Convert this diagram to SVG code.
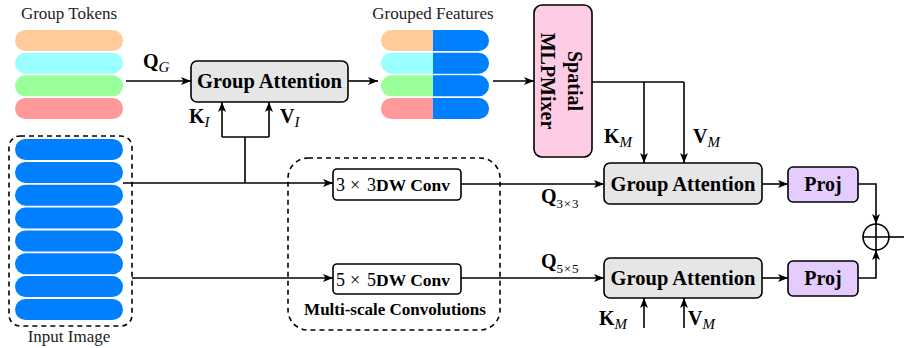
<svg xmlns="http://www.w3.org/2000/svg" width="904" height="348" viewBox="0 0 904 348">
<style>
text{font-family:"Liberation Serif","Times New Roman",Times,"DejaVu Serif",serif}
.lbl{font-size:17px;fill:#222}
.bt{font-weight:bold;font-size:20.5px;fill:#000}
.pj{font-weight:bold;font-size:20px;fill:#000}
.mb{font-weight:bold;font-size:20px;fill:#000}
.sub{font-style:italic;font-weight:normal;font-size:15px;fill:#000}
.subn{font-weight:normal;font-size:13px;fill:#000;letter-spacing:0.8px}
.dw{font-weight:bold;font-size:17.5px}
.num{font-size:18px}
.ln{fill:none;stroke:#000;stroke-width:1.6}
.arr{fill:none;stroke:#000;stroke-width:1.6;marker-end:url(#ah)}
.box{stroke:#000;stroke-width:1.6}
.dash{fill:none;stroke:#000;stroke-width:1.6;stroke-dasharray:5 4}
.blue{fill:#0080ff}
</style>
<defs>
<marker id="ah" viewBox="0 0 10 8" refX="10" refY="4" markerWidth="10" markerHeight="8" markerUnits="userSpaceOnUse" orient="auto">
<path d="M0,0 L10,4 L0,8 L2.5,4 Z" fill="#000"/>
</marker>
</defs>

<g id="group-tokens">
<text class="lbl" x="69" y="19" text-anchor="middle">Group Tokens</text>
<rect x="15" y="30" width="108" height="21" rx="10.5" fill="#ffcc99"/>
<rect x="15" y="52.7" width="108" height="21" rx="10.5" fill="#99ffff"/>
<rect x="15" y="75.3" width="108" height="21" rx="10.5" fill="#99ff99"/>
<rect x="15" y="98" width="108" height="21" rx="10.5" fill="#ff9999"/>
</g>

<g id="input-image">
<rect class="dash" x="9" y="136" width="123" height="190" rx="11"/>
<rect class="blue" x="15" y="139" width="108" height="21" rx="10.5"/>
<rect class="blue" x="15" y="161.9" width="108" height="21" rx="10.5"/>
<rect class="blue" x="15" y="184.7" width="108" height="21" rx="10.5"/>
<rect class="blue" x="15" y="207.6" width="108" height="21" rx="10.5"/>
<rect class="blue" x="15" y="230.4" width="108" height="21" rx="10.5"/>
<rect class="blue" x="15" y="253.3" width="108" height="21" rx="10.5"/>
<rect class="blue" x="15" y="276.1" width="108" height="21" rx="10.5"/>
<rect class="blue" x="15" y="299" width="108" height="21" rx="10.5"/>
<text class="lbl" x="69" y="342" text-anchor="middle">Input Image</text>
</g>

<g id="group-attention-1">
<rect class="box" x="191" y="61" width="157" height="41" rx="6" fill="#e6e6e6"/>
<text class="bt" x="269.5" y="88" text-anchor="middle">Group Attention</text>
</g>

<g id="grouped-features">
<text class="lbl" x="433" y="19" text-anchor="middle">Grouped Features</text>
<rect x="381" y="30" width="108" height="21" rx="10.5" fill="#ffcc99"/>
<rect x="381" y="52.7" width="108" height="21" rx="10.5" fill="#99ffff"/>
<rect x="381" y="75.3" width="108" height="21" rx="10.5" fill="#99ff99"/>
<rect x="381" y="98" width="108" height="21" rx="10.5" fill="#ff9999"/>
<path class="blue" d="M433,30 H478.5 A10.5,10.5 0 0 1 478.5,51 H433 Z"/>
<path class="blue" d="M433,52.7 H478.5 A10.5,10.5 0 0 1 478.5,73.7 H433 Z"/>
<path class="blue" d="M433,75.3 H478.5 A10.5,10.5 0 0 1 478.5,96.3 H433 Z"/>
<path class="blue" d="M433,98 H478.5 A10.5,10.5 0 0 1 478.5,119 H433 Z"/>
</g>

<g id="spatial-mlpmixer">
<rect class="box" x="534" y="5" width="58" height="152" rx="8" fill="#ffcce6"/>
<g transform="translate(563,81) rotate(90)">
<text class="pj" x="0" y="-5" text-anchor="middle">Spatial</text>
<text class="pj" x="0" y="22" text-anchor="middle">MLPMixer</text>
</g>
</g>

<g id="multi-scale">
<rect class="dash" x="288" y="158" width="212" height="172" rx="20"/>
<text x="395" y="315" text-anchor="middle" style="font-weight:bold;font-size:17px">Multi-scale Convolutions</text>
</g>

<g id="dwconv-3">
<rect class="box" x="333" y="169" width="128" height="31" rx="4" fill="#fff"/>
<text class="num" x="336" y="190.5">3</text>
<text class="num" x="350" y="190.5">×</text>
<text class="num" x="367" y="190.5">3</text>
<text class="dw" x="376" y="190.5">DW Conv</text>
</g>

<g id="dwconv-5">
<rect class="box" x="333" y="264" width="128" height="30" rx="4" fill="#fff"/>
<text class="num" x="336" y="285.5">5</text>
<text class="num" x="350" y="285.5">×</text>
<text class="num" x="367" y="285.5">5</text>
<text class="dw" x="376" y="285.5">DW Conv</text>
</g>

<g id="group-attention-2">
<rect class="box" x="604" y="163" width="158" height="41" rx="6" fill="#e6e6e6"/>
<text class="bt" x="683" y="190.5" text-anchor="middle">Group Attention</text>
</g>

<g id="group-attention-3">
<rect class="box" x="604" y="258" width="158" height="40" rx="6" fill="#e6e6e6"/>
<text class="bt" x="683" y="285" text-anchor="middle">Group Attention</text>
</g>

<g id="proj-1">
<rect class="box" x="788" y="167" width="70" height="35" rx="5" fill="#e5ccff"/>
<text class="pj" x="823" y="190.5" text-anchor="middle">Proj</text>
</g>

<g id="proj-2">
<rect class="box" x="788" y="261" width="70" height="35" rx="5" fill="#e5ccff"/>
<text class="pj" x="823" y="285" text-anchor="middle">Proj</text>
</g>

<g id="sum">
<circle cx="876" cy="237" r="13" fill="#fff" stroke="#000" stroke-width="1.6"/>
<path class="ln" d="M863,237 H889 M876,224 V250"/>
</g>

<g id="connectors">
<path class="arr" d="M126,81 H191"/>
<path class="arr" d="M348,81 H378"/>
<path class="arr" d="M493,81 H534"/>
<path class="ln" d="M245,183 V137 M222,137 H269"/>
<path class="arr" d="M222,137 V102"/>
<path class="arr" d="M269,137 V102"/>
<path class="arr" d="M123,183 H333"/>
<path class="arr" d="M132,278 H333"/>
<path class="arr" d="M461,184 H604"/>
<path class="arr" d="M461,278 H604"/>
<path class="ln" d="M592,82 H684"/>
<path class="arr" d="M644,82 V163"/>
<path class="arr" d="M684,82 V163"/>
<path class="arr" d="M644,328 V298"/>
<path class="arr" d="M684,328 V298"/>
<path class="arr" d="M762,184 H788"/>
<path class="arr" d="M762,278 H788"/>
<path class="arr" d="M858,184 H876 V224"/>
<path class="arr" d="M858,278 H876 V250"/>
<path class="ln" d="M889,237 H904"/>
</g>

<g id="labels">
<text class="mb" x="143" y="68">Q<tspan class="sub" dy="4">G</tspan></text>
<text class="mb" x="189" y="123">K<tspan class="sub" dy="4">I</tspan></text>
<text class="mb" x="280" y="123">V<tspan class="sub" dy="4">I</tspan></text>
<text class="mb" x="604" y="143">K<tspan class="sub" dy="4">M</tspan></text>
<text class="mb" x="693" y="143">V<tspan class="sub" dy="4">M</tspan></text>
<text class="mb" x="599" y="325">K<tspan class="sub" dy="4">M</tspan></text>
<text class="mb" x="688" y="325">V<tspan class="sub" dy="4">M</tspan></text>
<text class="mb" x="541" y="203">Q<tspan class="subn" dy="5">3×3</tspan></text>
<text class="mb" x="541" y="268">Q<tspan class="subn" dy="5">5×5</tspan></text>
</g>
</svg>
